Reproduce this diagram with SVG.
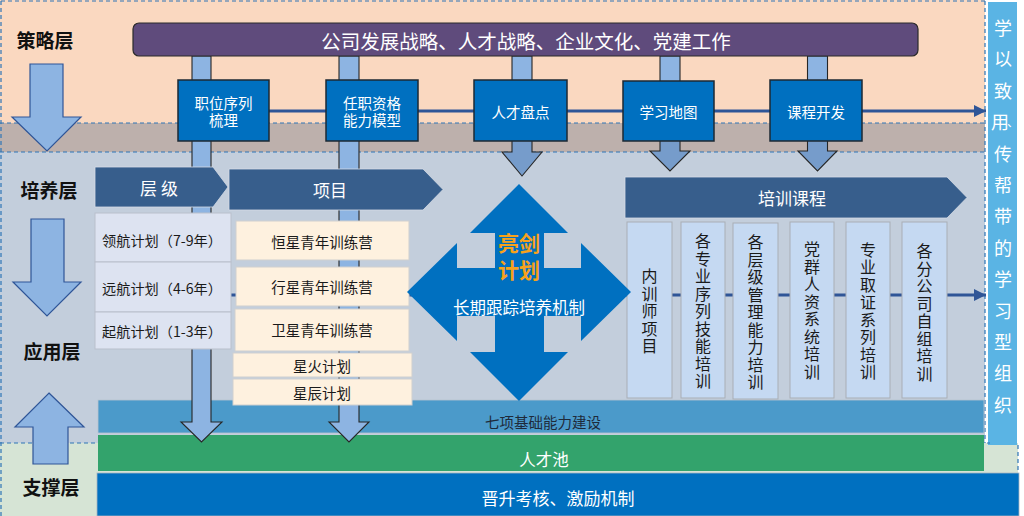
<svg xmlns="http://www.w3.org/2000/svg" width="1024" height="516" viewBox="0 0 1024 516">
<defs>
<style>
text{font-family:"Noto Sans CJK SC","Noto Sans",sans-serif;dominant-baseline:central;text-anchor:middle}
.lay{font-size:19px;font-weight:bold;fill:#111}
.dash{fill:none;stroke:#2E75B6;stroke-width:1.2;stroke-dasharray:4 3}
.bigarr{fill:#8DB4E2;stroke:#2F5597;stroke-width:1.2}
.shaft{fill:#8DB4E2;stroke:#262626;stroke-width:1.1}
.shaft2{fill:#769CCB;stroke:#262626;stroke-width:1.1}
.flow{fill:none;stroke:#2F5597;stroke-width:3}
.topbox{fill:#0070C0;stroke:#1C2833;stroke-width:1.5}
.tb{font-size:14.5px;fill:#fff}
.banner{fill:#375E8C;stroke:#D5DCE6;stroke-width:0.8}
.bt{font-size:17px;fill:#fff}
.lv{fill:#DDE3F1;stroke:#B9BFCB;stroke-width:1}
.pj{fill:#FEF1DF;stroke:#CFCFCF;stroke-width:1}
.it{font-size:14.2px;fill:#1A1A1A}
.pt{font-size:14.5px;fill:#1A1A1A}
.col{fill:#C5D9F2;stroke:#A9AEB5;stroke-width:1}
.ct{font-size:16px;fill:#1A1A1A}
.rt{font-size:18px;fill:#fff}
</style>
<marker id="ah" markerUnits="userSpaceOnUse" viewBox="0 0 12 12" markerWidth="12" markerHeight="12" refX="12" refY="6" orient="auto">
<path d="M0,0 L12,6 L0,12 z" fill="#2F5597"/>
</marker>
</defs>

<!-- background layers -->
<rect x="0" y="0" width="1024" height="516" fill="#fff"/>
<rect x="0" y="0" width="985" height="123" fill="#FAD8C0"/>
<rect x="0" y="123" width="985" height="29" fill="#BDB0AC"/>
<rect x="0" y="152" width="985" height="291" fill="#C3CEDC"/>
<rect x="0" y="443" width="1018" height="73" fill="#D6E4D5"/>
<rect x="988" y="2" width="29" height="443" fill="#5AB4E4"/>
<path class="dash" d="M1,1 H985 M1,1 V516 M0,123 H985 M0,152 H985 M985,1 V443 M0,443 H990 M1018,445 V516"/>

<!-- layer labels and big arrows -->
<text class="lay" x="45" y="39">策略层</text>
<text class="lay" x="49" y="189">培养层</text>
<text class="lay" x="52" y="350">应用层</text>
<text class="lay" x="51" y="486">支撑层</text>
<polygon class="bigarr" points="30,64 63,64 63,117 81,117 47,151 12,117 30,117"/>
<polygon class="bigarr" points="31,219 64,219 64,282 81,282 47,316 13,282 31,282"/>
<polygon class="bigarr" points="49,393 84,427 68,427 68,464 33,464 33,427 15,427"/>

<!-- bottom bands -->
<g id="band-seven">
<rect x="98" y="400" width="886" height="33" fill="#4B9ACA" stroke="#B8C4D0" stroke-width="0.8"/>
<text x="543" y="421" style="font-size:14.5px;fill:#1E2A3A">七项基础能力建设</text>
</g>
<g id="band-pool">
<rect x="98" y="435" width="886" height="36" fill="#33A36C"/>
<text x="544" y="459" style="font-size:16.5px;fill:#fff">人才池</text>
</g>
<g id="band-promo">
<rect x="97" y="473" width="922" height="43" fill="#0070C0" stroke="#A8B4C0" stroke-width="0.8"/>
<text x="558" y="497" style="font-size:17px;fill:#fff">晋升考核、激励机制</text>
</g>

<!-- connectors -->
<g id="connectors">
<line class="flow" x1="269" y1="111" x2="986" y2="111" marker-end="url(#ah)"/>
<line class="flow" x1="215" y1="295" x2="986" y2="295" marker-end="url(#ah)"/>
<polygon class="shaft" points="192,56 211,56 211,422 222,422 201.5,442 181,422 192,422"/>
<polygon class="shaft" points="339,56 359,56 359,422 369,422 349,442 329,422 339,422"/>
<rect class="shaft" x="512" y="56" width="20" height="25"/>
<polygon class="shaft2" points="512,140 532,140 532,152 542,152 522,176 502,152 512,152"/>
<rect class="shaft" x="660" y="56" width="20" height="26"/>
<polygon class="shaft2" points="660,140 680,140 680,151 690,151 670,171 650,151 660,151"/>
<rect class="shaft" x="807.5" y="56" width="20" height="25"/>
<polygon class="shaft2" points="807.5,140 827.5,140 827.5,151 837,151 817.5,171 798,151 807.5,151"/>
</g>

<!-- strategy bar -->
<g id="strategy">
<rect x="133" y="23" width="785" height="33" rx="6" fill="#5F4B7C" stroke="#2B2B2B" stroke-width="1.2"/>
<text x="526" y="40" style="font-size:19.5px;fill:#fff">公司发展战略、人才战略、企业文化、党建工作</text>
</g>

<!-- top boxes -->
<g id="box-zhiwei">
<rect class="topbox" x="178" y="80" width="91" height="61"/>
<text class="tb" x="223.5" y="102">职位序列</text>
<text class="tb" x="223.5" y="119">梳理</text>
</g>
<g id="box-renzhi">
<rect class="topbox" x="326" y="80" width="92" height="61"/>
<text class="tb" x="372" y="102">任职资格</text>
<text class="tb" x="372" y="119">能力模型</text>
</g>
<g id="box-pandian">
<rect class="topbox" x="474" y="80" width="93" height="61"/>
<text class="tb" x="520.5" y="111">人才盘点</text>
</g>
<g id="box-ditu">
<rect class="topbox" x="623" y="81" width="91" height="60"/>
<text class="tb" x="668.5" y="111">学习地图</text>
</g>
<g id="box-kecheng">
<rect class="topbox" x="770" y="80" width="92" height="61"/>
<text class="tb" x="816" y="111">课程开发</text>
</g>

<!-- level banner and items -->
<g id="banner-level">
<polygon class="banner" points="95,167 213,167 228,187 213,207 95,207"/>
<text class="bt" x="159" y="187">层 级</text>
</g>
<g id="level-1">
<rect class="lv" x="95" y="213" width="136" height="49"/>
<text class="it" x="162" y="240">领航计划（7-9年）</text>
</g>
<g id="level-2">
<rect class="lv" x="95" y="262" width="136" height="50"/>
<text class="it" x="162" y="288">远航计划（4-6年）</text>
</g>
<g id="level-3">
<rect class="lv" x="95" y="312" width="136" height="37"/>
<text class="it" x="162" y="331">起航计划（1-3年）</text>
</g>

<!-- project banner and items -->
<g id="banner-project">
<polygon class="banner" points="229,169 423,169 443,189.5 423,210 229,210"/>
<text class="bt" x="330" y="189">项目</text>
</g>
<g id="proj-1">
<rect class="pj" x="236" y="221" width="173" height="39"/>
<text class="pt" x="322" y="241">恒星青年训练营</text>
</g>
<g id="proj-2">
<rect class="pj" x="236" y="267" width="173" height="39"/>
<text class="pt" x="322" y="286">行星青年训练营</text>
</g>
<g id="proj-3">
<rect class="pj" x="235" y="309" width="174" height="42"/>
<text class="pt" x="322" y="329">卫星青年训练营</text>
</g>
<g id="proj-4">
<rect class="pj" x="233" y="353" width="179" height="24"/>
<text class="pt" x="322" y="365">星火计划</text>
</g>
<g id="proj-5">
<rect class="pj" x="233" y="379" width="179" height="26"/>
<text class="pt" x="322" y="392">星辰计划</text>
</g>

<!-- training banner and columns -->
<g id="banner-training">
<polygon class="banner" points="625,177 947,177 967,197.5 947,218 625,218"/>
<text class="bt" x="792" y="197">培训课程</text>
</g>
<g id="col-1">
<rect class="col" x="627" y="222" width="45" height="176"/>
<text class="ct"><tspan x="649.5" y="275">内</tspan><tspan x="649.5" y="292.5">训</tspan><tspan x="649.5" y="310">师</tspan><tspan x="649.5" y="327.5">项</tspan><tspan x="649.5" y="345">目</tspan></text>
</g>
<g id="col-2">
<rect class="col" x="681" y="222" width="44" height="176"/>
<text class="ct"><tspan x="703" y="240">各</tspan><tspan x="703" y="257.5">专</tspan><tspan x="703" y="275">业</tspan><tspan x="703" y="292.5">序</tspan><tspan x="703" y="310">列</tspan><tspan x="703" y="327.5">技</tspan><tspan x="703" y="345">能</tspan><tspan x="703" y="362.5">培</tspan><tspan x="703" y="380">训</tspan></text>
</g>
<g id="col-3">
<rect class="col" x="733" y="223" width="45" height="176"/>
<text class="ct"><tspan x="755.5" y="241">各</tspan><tspan x="755.5" y="258.5">层</tspan><tspan x="755.5" y="276">级</tspan><tspan x="755.5" y="293.5">管</tspan><tspan x="755.5" y="311">理</tspan><tspan x="755.5" y="328.5">能</tspan><tspan x="755.5" y="346">力</tspan><tspan x="755.5" y="363.5">培</tspan><tspan x="755.5" y="381">训</tspan></text>
</g>
<g id="col-4">
<rect class="col" x="790" y="222" width="44" height="176"/>
<text class="ct"><tspan x="812" y="248">党</tspan><tspan x="812" y="265.5">群</tspan><tspan x="812" y="283">人</tspan><tspan x="812" y="300.5">资</tspan><tspan x="812" y="318">系</tspan><tspan x="812" y="335.5">统</tspan><tspan x="812" y="353">培</tspan><tspan x="812" y="370.5">训</tspan></text>
</g>
<g id="col-5">
<rect class="col" x="846" y="222" width="44" height="176"/>
<text class="ct"><tspan x="868" y="248.5">专</tspan><tspan x="868" y="266">业</tspan><tspan x="868" y="283.5">取</tspan><tspan x="868" y="301">证</tspan><tspan x="868" y="318.5">系</tspan><tspan x="868" y="336">列</tspan><tspan x="868" y="353.5">培</tspan><tspan x="868" y="371">训</tspan></text>
</g>
<g id="col-6">
<rect class="col" x="902" y="222" width="45" height="176"/>
<text class="ct"><tspan x="924.5" y="250">各</tspan><tspan x="924.5" y="267.5">分</tspan><tspan x="924.5" y="285">公</tspan><tspan x="924.5" y="302.5">司</tspan><tspan x="924.5" y="320">自</tspan><tspan x="924.5" y="337.5">组</tspan><tspan x="924.5" y="355">培</tspan><tspan x="924.5" y="372.5">训</tspan></text>
</g>

<!-- central quad arrow -->
<g id="liangjian">
<polygon fill="#0070C0" points="519,184 568,233 544,233 544,268 581,268 581,243 631,292 581,341 581,316 544,316 544,352 568,352 519,401 470,352 495,352 495,316 457,316 457,341 407,292 457,243 457,268 495,268 495,233 470,233"/>
<text x="519" y="242" style="font-size:21px;font-weight:bold;fill:#F7A21B">亮剑</text>
<text x="519" y="269" style="font-size:21px;font-weight:bold;fill:#F7A21B">计划</text>
<text x="519" y="307" style="font-size:16.5px;fill:#fff">长期跟踪培养机制</text>
</g>

<!-- right vertical label -->
<g id="learning-org">
<text class="rt"><tspan x="1003" y="27">学</tspan><tspan x="1003" y="58.4">以</tspan><tspan x="1003" y="89.8">致</tspan><tspan x="1000" y="121.2">用</tspan><tspan x="1003" y="152.6">传</tspan><tspan x="1003" y="184">帮</tspan><tspan x="1003" y="215.4">带</tspan><tspan x="1003" y="246.8">的</tspan><tspan x="1003" y="278.2">学</tspan><tspan x="1003" y="309.6">习</tspan><tspan x="1003" y="341">型</tspan><tspan x="1003" y="372.4">组</tspan><tspan x="1003" y="403.8">织</tspan></text>
<text x="1013" y="121.2" style="font-size:12px;fill:#fff">、</text>
</g>
</svg>
